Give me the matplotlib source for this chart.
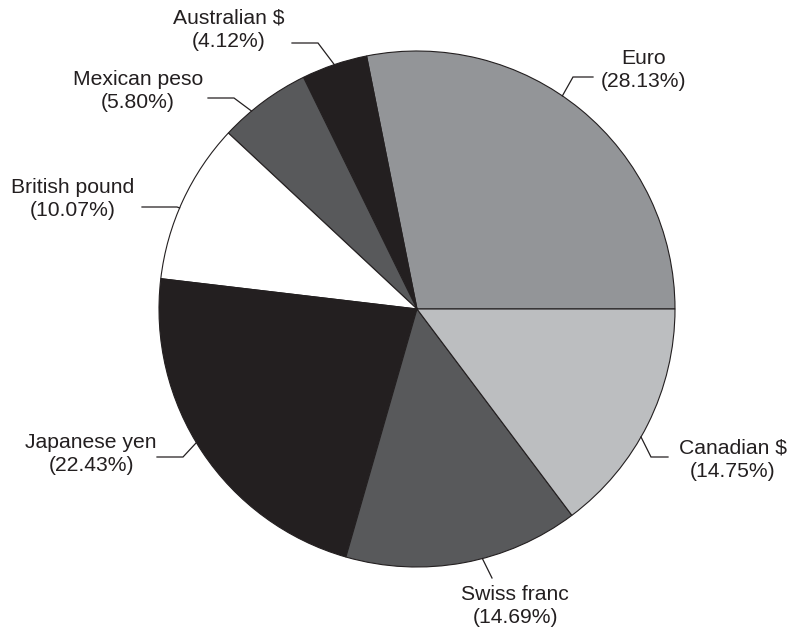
import matplotlib.pyplot as plt
import numpy as np

# currency shares, counterclockwise from 3 o'clock
currencies = ["Euro", "Australian $", "Mexican peso", "British pound",
              "Japanese yen", "Swiss franc", "Canadian $"]
shares = [28.13, 4.12, 5.80, 10.07, 22.43, 14.69, 14.75]
colors = ["#939598", "#231f20", "#58595b", "#ffffff",
          "#231f20", "#58595b", "#bcbec0"]

W, H = 794, 633
cx, cy, R = 417, 309, 258   # pie centre / radius in image pixels
ink = "#231f20"

# label layout (image pixels): text centre, anchor fraction along wedge,
# elbow point and end of the horizontal leg
layout = {
    "Euro":          dict(text=(644, 70),  frac=0.55, elbow=(573, 77),  end=(593, 77)),
    "Australian $":  dict(text=(229, 30),  frac=0.50, elbow=(318, 43),  end=(292, 43)),
    "Mexican peso":  dict(text=(138, 91),  frac=0.66, elbow=(234, 98),  end=(208, 98)),
    "British pound": dict(text=(73, 199),  frac=0.55, elbow=(177, 207), end=(142, 207)),
    "Japanese yen":  dict(text=(91, 454),  frac=0.47, elbow=(183, 457), end=(157, 457)),
    "Swiss franc":   dict(text=(515, 606), frac=0.58, elbow=(492, 578), end=(492, 578)),
    "Canadian $":    dict(text=(733, 460), frac=0.44, elbow=(651, 457), end=(668, 457)),
}

plt.rcParams['font.family'] = ['Liberation Sans', 'DejaVu Sans']

fig = plt.figure(figsize=(W / 100, H / 100), dpi=100)
ax = fig.add_axes([0, 0, 1, 1])

wedges, _ = ax.pie(shares, colors=colors, startangle=0, counterclock=True,
                   center=(cx, H - cy), radius=R,
                   wedgeprops=dict(edgecolor=ink, linewidth=0.8))

for w, name, pct in zip(wedges, currencies, shares):
    lay = layout[name]
    ang = np.deg2rad(w.theta1 + lay["frac"] * (w.theta2 - w.theta1))
    sx = cx + R * np.cos(ang)
    sy = (H - cy) + R * np.sin(ang)
    ex, ey = lay["elbow"]
    fx, fy = lay["end"]
    ax.plot([sx, ex, fx], [sy, H - ey, H - fy], color=ink, lw=0.9,
            solid_joinstyle='miter')
    tx, ty = lay["text"]
    ax.text(tx, H - ty, f"{name}\n({pct:.2f}%)", ha='center', va='center',
            multialignment='center', fontsize=15.2, color=ink, linespacing=1.3)

ax.set_xlim(0, W)
ax.set_ylim(0, H)
ax.set_aspect('equal')
ax.axis('off')

plt.savefig("out.png", dpi=100)
